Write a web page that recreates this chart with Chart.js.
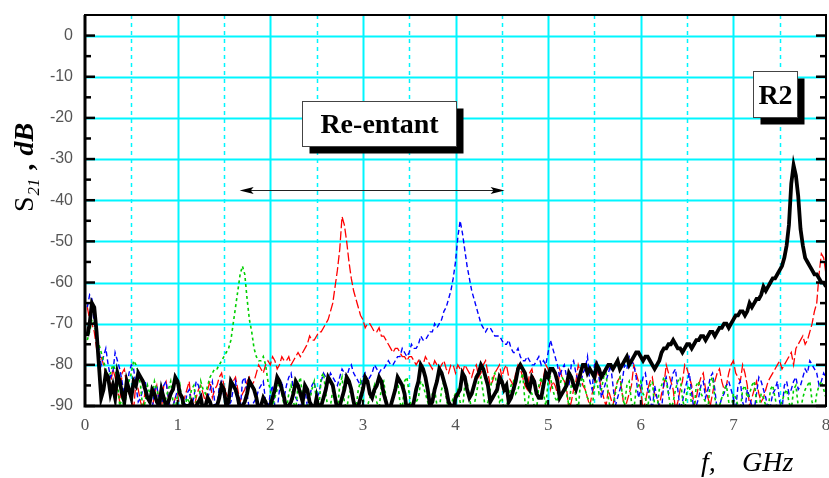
<!DOCTYPE html>
<html><head><meta charset="utf-8">
<script src="https://cdn.jsdelivr.net/npm/chart.js@4/dist/chart.umd.min.js"></script>
<style>html,body{margin:0;padding:0;background:#fff}</style>
</head><body>
<canvas id="c" width="829" height="478"></canvas>
<script>
// ---------- data ----------
const freqGHz = [
0.025,0.05,0.075,0.1,0.125,0.15,0.175,0.2,0.225,0.25,0.275,0.3,0.325,0.35,0.375,0.4,0.425,0.45,0.475,0.5,0.525,0.55,0.575,0.6,0.625,0.65,0.675,0.7,0.725,0.75,0.775,0.8,0.825,0.85,0.875,0.9,0.925,0.95,0.975,1,
1.025,1.05,1.075,1.1,1.125,1.15,1.175,1.2,1.225,1.25,1.275,1.3,1.325,1.35,1.375,1.4,1.425,1.45,1.475,1.5,1.525,1.55,1.575,1.6,1.625,1.65,1.675,1.7,1.725,1.75,1.775,1.8,1.825,1.85,1.875,1.9,1.925,1.95,1.975,2,
2.025,2.05,2.075,2.1,2.125,2.15,2.175,2.2,2.225,2.25,2.275,2.3,2.325,2.35,2.375,2.4,2.425,2.45,2.475,2.5,2.525,2.55,2.575,2.6,2.625,2.65,2.675,2.7,2.725,2.75,2.775,2.8,2.825,2.85,2.875,2.9,2.925,2.95,2.975,3,
3.025,3.05,3.075,3.1,3.125,3.15,3.175,3.2,3.225,3.25,3.275,3.3,3.325,3.35,3.375,3.4,3.425,3.45,3.475,3.5,3.525,3.55,3.575,3.6,3.625,3.65,3.675,3.7,3.725,3.75,3.775,3.8,3.825,3.85,3.875,3.9,3.925,3.95,3.975,4,
4.025,4.05,4.075,4.1,4.125,4.15,4.175,4.2,4.225,4.25,4.275,4.3,4.325,4.35,4.375,4.4,4.425,4.45,4.475,4.5,4.525,4.55,4.575,4.6,4.625,4.65,4.675,4.7,4.725,4.75,4.775,4.8,4.825,4.85,4.875,4.9,4.925,4.95,4.975,5,
5.025,5.05,5.075,5.1,5.125,5.15,5.175,5.2,5.225,5.25,5.275,5.3,5.325,5.35,5.375,5.4,5.425,5.45,5.475,5.5,5.525,5.55,5.575,5.6,5.625,5.65,5.675,5.7,5.725,5.75,5.775,5.8,5.825,5.85,5.875,5.9,5.925,5.95,5.975,6,
6.025,6.05,6.075,6.1,6.125,6.15,6.175,6.2,6.225,6.25,6.275,6.3,6.325,6.35,6.375,6.4,6.425,6.45,6.475,6.5,6.525,6.55,6.575,6.6,6.625,6.65,6.675,6.7,6.725,6.75,6.775,6.8,6.825,6.85,6.875,6.9,6.925,6.95,6.975,7,
7.025,7.05,7.075,7.1,7.125,7.15,7.175,7.2,7.225,7.25,7.275,7.3,7.325,7.35,7.375,7.4,7.425,7.45,7.475,7.5,7.525,7.55,7.575,7.6,7.625,7.65,7.675,7.7,7.725,7.75,7.775,7.8,7.825,7.85,7.875,7.9,7.925,7.95,7.975,8];

const s21_R2 = [
-73,-70,-65,-66,-72,-80,-88,-86,-82,-83,-87,-85,-88,-82,-84,-87,-89,-84,-86,-88,-84,-85,-82,-83,-84,-86,-88,-89,-86,-87,-89,-90,-86,-88,-90,-89,-87,-86,-83,-84,
-87,-88,-91,-90,-90,-89,-91,-90,-89,-88,-91,-90,-88,-89,-91,-90,-90,-88,-85,-86,-90,-89,-84,-85,-86,-88,-91,-90,-89,-87,-84,-85,-86,-88,-91,-90,-88,-89,-91,-90,
-88,-86,-83,-84,-86,-88,-91,-90,-89,-87,-84,-85,-87,-89,-85,-86,-89,-90,-91,-88,-91,-90,-88,-86,-83,-84,-85,-88,-91,-90,-88,-86,-83,-84,-86,-89,-91,-90,-88,-86,
-83,-84,-87,-88,-86,-85,-83,-84,-87,-89,-91,-90,-88,-86,-83,-84,-85,-87,-91,-90,-91,-89,-86,-84,-80,-81,-83,-86,-90,-89,-86,-84,-81,-82,-84,-86,-89,-90,-91,-88,
-87,-86,-82,-83,-86,-88,-87,-85,-83,-82,-80,-81,-83,-85,-89,-88,-87,-86,-83,-84,-86,-85,-89,-88,-86,-84,-81,-80,-81,-82,-85,-86,-83,-84,-87,-88,-88,-85,-82,-83,
-81,-81,-82,-84,-88,-87,-86,-85,-82,-83,-85,-86,-84,-82,-80,-80,-82,-81,-82,-83,-80,-81,-83,-82,-81,-80,-80,-81,-80,-79,-81,-80,-79,-78,-80,-79,-78,-77,-77,-78,
-79,-78,-78,-79,-80,-81,-80,-79,-77,-76,-76,-75,-75,-74,-75,-76,-76,-77,-76,-75,-75,-76,-75,-74,-74,-73,-73,-74,-73,-72,-72,-73,-72,-71,-71,-70,-70,-71,-70,-69,
-68,-68,-67,-67,-68,-67,-65,-66,-65,-64,-64,-63,-61,-62,-61,-60,-59,-59,-58,-57,-56,-54,-51,-46,-36,-31.5,-34,-39,-47,-51,-54,-55,-56,-57,-58,-58,-59,-60,-60,-61];

const s21_red = [
-66,-69,-70,-72,-76,-79,-78,-80,-82,-84,-85,-81,-83,-86,-89,-82,-81,-85,-87,-88,-91,-84,-86,-89,-91,-86,-88,-90,-91,-87,-85,-89,-91,-85,-84,-88,-91,-90,-88,-87,
-91,-89,-88,-86,-84,-90,-91,-88,-86,-85,-87,-89,-86,-84,-88,-86,-85,-83,-82,-85,-87,-88,-86,-84,-83,-86,-89,-87,-86,-84,-83,-85,-84,-82,-80,-81,-82,-80,-79,-80,
-78,-79,-81,-80,-78,-79,-79,-78,-80,-79,-78,-77,-78,-77,-76,-75,-73,-74,-74,-73,-72,-72,-71,-70,-69,-67,-65,-61,-57,-52,-44,-46,-50,-55,-59,-62,-64,-66,-68,-69,
-71,-70,-70,-71,-72,-72,-71,-73,-73,-74,-75,-76,-77,-76,-76,-77,-78,-78,-79,-78,-78,-79,-80,-79,-81,-80,-78,-79,-80,-81,-79,-80,-81,-80,-79,-81,-82,-80,-80,-82,
-80,-81,-82,-80,-81,-82,-83,-81,-80,-83,-82,-80,-79,-82,-85,-84,-82,-81,-80,-83,-81,-80,-83,-84,-85,-82,-80,-81,-83,-85,-86,-82,-81,-84,-87,-86,-84,-83,-80,-81,
-86,-84,-85,-87,-81,-83,-84,-86,-91,-89,-86,-84,-80,-82,-85,-86,-88,-90,-87,-85,-81,-83,-86,-88,-90,-86,-88,-90,-86,-84,-83,-87,-91,-89,-87,-85,-80,-82,-84,-86,
-91,-89,-86,-84,-83,-87,-88,-90,-87,-85,-80,-82,-84,-86,-91,-89,-86,-84,-80,-81,-83,-85,-90,-88,-85,-83,-82,-86,-88,-90,-87,-84,-82,-81,-84,-86,-85,-82,-80,-79,
-82,-83,-84,-80,-82,-85,-90,-88,-86,-84,-87,-89,-88,-86,-84,-83,-82,-81,-80,-79,-81,-80,-79,-78,-77,-80,-76,-75,-74,-73,-75,-74,-72,-70,-67,-65,-58,-53,-54,-58];

const s21_green = [
-74,-72,-69,-70,-73,-75,-77,-79,-81,-83,-82,-80,-81,-84,-90,-88,-91,-86,-84,-82,-79,-80,-82,-85,-91,-89,-85,-87,-88,-84,-86,-88,-91,-90,-88,-86,-84,-89,-91,-87,
-85,-90,-91,-88,-89,-86,-85,-89,-90,-84,-86,-87,-85,-83,-82,-81,-81,-80,-79,-78,-77,-76,-74,-70,-66,-62,-58,-56,-58,-64,-69,-72,-76,-78,-79,-79,-78,-80,-84,-86,
-90,-88,-86,-84,-87,-90,-91,-87,-85,-89,-91,-85,-83,-88,-91,-90,-89,-86,-84,-89,-91,-83,-82,-87,-91,-90,-86,-88,-91,-85,-83,-89,-91,-87,-86,-90,-91,-86,-84,-88,
-91,-90,-88,-87,-85,-89,-91,-85,-84,-88,-91,-90,-88,-86,-84,-89,-91,-84,-83,-87,-91,-90,-89,-88,-84,-85,-87,-89,-91,-87,-86,-90,-91,-86,-84,-88,-91,-90,-88,-87,
-86,-89,-91,-85,-84,-88,-91,-90,-87,-84,-83,-87,-91,-89,-86,-83,-82,-86,-89,-88,-91,-90,-88,-85,-84,-87,-86,-84,-82,-89,-91,-86,-87,-90,-91,-85,-83,-87,-90,-84,
-83,-86,-88,-89,-85,-83,-84,-87,-90,-85,-84,-88,-91,-84,-83,-86,-88,-89,-91,-85,-84,-87,-86,-83,-82,-88,-91,-90,-87,-84,-83,-87,-90,-85,-84,-89,-91,-86,-85,-84,
-87,-88,-91,-85,-84,-90,-91,-86,-85,-83,-84,-87,-91,-89,-86,-84,-83,-88,-91,-86,-85,-90,-91,-85,-84,-87,-88,-89,-91,-84,-83,-88,-91,-90,-88,-86,-85,-89,-91,-87,
-88,-90,-91,-86,-85,-88,-87,-85,-84,-89,-91,-87,-88,-90,-91,-86,-85,-88,-91,-90,-89,-87,-86,-89,-91,-86,-85,-90,-91,-88,-86,-85,-84,-89,-91,-87,-85,-84,-86,-88];

const s21_blue = [
-66,-63,-64,-70,-72,-76,-80,-78,-76,-80,-83,-82,-77,-79,-81,-84,-88,-86,-82,-80,-81,-85,-89,-88,-86,-84,-87,-90,-91,-86,-85,-89,-91,-85,-84,-88,-91,-90,-88,-86,
-87,-89,-91,-87,-86,-90,-88,-84,-85,-88,-91,-90,-88,-86,-84,-89,-91,-85,-84,-88,-91,-90,-89,-86,-84,-89,-91,-84,-83,-87,-91,-90,-89,-88,-86,-85,-84,-89,-91,-87,
-85,-90,-91,-86,-84,-88,-85,-83,-82,-86,-88,-89,-91,-87,-86,-90,-88,-85,-84,-88,-87,-84,-82,-83,-84,-82,-83,-84,-85,-83,-81,-82,-83,-81,-80,-82,-83,-84,-85,-83,
-82,-84,-83,-82,-80,-81,-82,-81,-81,-80,-79,-80,-80,-79,-78,-78,-76,-77,-78,-77,-75,-76,-76,-75,-73,-74,-74,-73,-72,-72,-70,-71,-70,-69,-67,-66,-64,-62,-59,-55,
-49,-45,-48,-52,-56,-59,-62,-64,-66,-68,-70,-71,-72,-71,-71,-72,-73,-73,-73,-74,-75,-75,-74,-76,-77,-77,-76,-78,-79,-79,-78,-79,-80,-80,-79,-78,-80,-79,-80,-77,
-74,-76,-78,-80,-83,-81,-80,-83,-85,-80,-79,-82,-84,-85,-82,-81,-78,-84,-86,-80,-79,-83,-88,-86,-84,-82,-80,-85,-90,-88,-86,-84,-80,-81,-78,-79,-80,-83,-88,-86,
-83,-82,-86,-88,-91,-85,-88,-90,-91,-84,-83,-87,-85,-82,-81,-86,-91,-89,-86,-84,-82,-87,-91,-90,-88,-85,-84,-88,-86,-83,-82,-86,-91,-90,-88,-87,-85,-84,-86,-88,
-91,-85,-84,-89,-91,-86,-88,-90,-91,-87,-83,-84,-86,-88,-91,-90,-87,-86,-84,-89,-91,-85,-84,-87,-86,-84,-83,-86,-85,-83,-81,-82,-79,-80,-81,-82,-85,-84,-82,-83];

const xTickValues = [0,1,2,3,4,5,6,7,8];
const xHalfGrid   = [0.5,1.5,2.5,3.5,4.5,5.5,6.5,7.5];
const yTickValues = [-90,-80,-70,-60,-50,-40,-30,-20,-10,0];
const yMinorTicks = [-85,-75,-65,-55,-45,-35,-25,-15,-5];

// annotation anchors (data units)
const reentantLabel = 'Re-entant';
const r2Label = 'R2';
const reentantBox = {x0:2.34, x1:4.01, y0:-15.9, y1:-26.8};
const r2Box = {x0:7.21, x1:7.69, y0:-8.6, y1:-19.7};
const arrowSpan = {x0:1.67, x1:4.53, y:-37.4};

// ---------- drawing helpers ----------
const pts = arr => freqGHz.map((f,i)=>({x:f, y:arr[i]}));

const bgPlugin = {
  id:'bgGrid',
  beforeDatasetsDraw(chart){
    const {ctx, chartArea:a, scales:{x,y}} = chart;
    ctx.save();
    ctx.strokeStyle = '#00F6FF';
    ctx.lineWidth = 2;
    yTickValues.forEach(v=>{
      if (v===-90) return;
      const py = Math.round(y.getPixelForValue(v))+0.5;
      ctx.beginPath(); ctx.moveTo(a.left,py); ctx.lineTo(a.right,py); ctx.stroke();
    });
    xTickValues.forEach(v=>{
      if (v===0||v===8) return;
      const px = Math.round(x.getPixelForValue(v))+0.5;
      ctx.beginPath(); ctx.moveTo(px,a.top); ctx.lineTo(px,a.bottom); ctx.stroke();
    });
    ctx.lineWidth = 1.5;
    ctx.setLineDash([4,4]);
    xHalfGrid.forEach(v=>{
      const px = Math.round(x.getPixelForValue(v))+0.5;
      ctx.beginPath(); ctx.moveTo(px,a.top); ctx.lineTo(px,a.bottom); ctx.stroke();
    });
    ctx.restore();
  },
  afterDatasetsDraw(chart){
    const {ctx, chartArea:a, scales:{x,y}} = chart;
    ctx.save();
    // frame
    ctx.strokeStyle = '#000';
    ctx.lineWidth = 2;
    ctx.strokeRect(a.left, a.top, a.right-a.left, a.bottom-a.top);
    ctx.lineWidth = 3;
    ctx.beginPath(); ctx.moveTo(a.left, a.top); ctx.lineTo(a.left, a.bottom); ctx.lineTo(a.right, a.bottom); ctx.stroke();
    // ticks
    ctx.lineWidth = 2.5;
    const tk = (v,len)=>{
      const py = y.getPixelForValue(v);
      ctx.beginPath(); ctx.moveTo(a.left,py); ctx.lineTo(a.left+len,py); ctx.stroke();
      ctx.beginPath(); ctx.moveTo(a.right,py); ctx.lineTo(a.right-len,py); ctx.stroke();
    };
    yTickValues.forEach(v=>tk(v,10));
    yMinorTicks.forEach(v=>tk(v,6));
    ctx.lineWidth = 2;
    xTickValues.forEach(v=>{
      const px = x.getPixelForValue(v);
      ctx.beginPath(); ctx.moveTo(px,a.bottom); ctx.lineTo(px,a.bottom-6); ctx.stroke();
    });

    // arrow
    const ax0 = x.getPixelForValue(arrowSpan.x0), ax1 = x.getPixelForValue(arrowSpan.x1);
    const ay = Math.round(y.getPixelForValue(arrowSpan.y))+0.5;
    ctx.strokeStyle = '#222'; ctx.lineWidth = 1;
    ctx.beginPath(); ctx.moveTo(ax0+6,ay); ctx.lineTo(ax1-6,ay); ctx.stroke();
    ctx.fillStyle = '#000';
    ctx.beginPath(); ctx.moveTo(ax0,ay); ctx.lineTo(ax0+14,ay-3.5); ctx.lineTo(ax0+11,ay); ctx.lineTo(ax0+14,ay+3.5); ctx.closePath(); ctx.fill();
    ctx.beginPath(); ctx.moveTo(ax1,ay); ctx.lineTo(ax1-14,ay-3.5); ctx.lineTo(ax1-11,ay); ctx.lineTo(ax1-14,ay+3.5); ctx.closePath(); ctx.fill();

    // boxes
    const box = (b, label)=>{
      const l = Math.round(x.getPixelForValue(b.x0))+0.5, r = Math.round(x.getPixelForValue(b.x1))+0.5;
      const t = Math.round(y.getPixelForValue(b.y0))+0.5, bt = Math.round(y.getPixelForValue(b.y1))+0.5;
      ctx.fillStyle = '#000';
      ctx.fillRect(l+7, t+7, r-l, bt-t);
      ctx.fillStyle = '#fff';
      ctx.fillRect(l, t, r-l, bt-t);
      ctx.strokeStyle = '#444'; ctx.lineWidth = 1;
      ctx.strokeRect(l, t, r-l, bt-t);
      ctx.fillStyle = '#000';
      ctx.font = 'bold 28px "Liberation Serif", "Times New Roman", serif';
      ctx.textAlign = 'center'; ctx.textBaseline = 'alphabetic';
      ctx.fillText(label, (l+r)/2, (t+bt)/2 + 9);
    };
    box(reentantBox, reentantLabel);
    box(r2Box, r2Label);
    ctx.restore();
  },
  afterDraw(chart){
    const {ctx} = chart;
    ctx.save();
    // y axis title, rotated
    ctx.translate(33, 212);
    ctx.rotate(-Math.PI/2);
    ctx.fillStyle = '#000';
    ctx.textAlign = 'left'; ctx.textBaseline = 'alphabetic';
    let cx = 0;
    ctx.font = '28px "Liberation Serif", serif';
    ctx.fillText('S', cx, 0); cx += ctx.measureText('S').width + 1;
    ctx.font = 'italic 17px "Liberation Serif", serif';
    ctx.fillText('21', cx, 6); cx += ctx.measureText('21').width + 2;
    ctx.font = 'bold italic 28px "Liberation Serif", serif';
    ctx.fillText(' , dB', cx, 0);
    ctx.restore();

    ctx.save();
    ctx.fillStyle = '#000';
    ctx.font = 'italic 28px "Liberation Serif", serif';
    ctx.textAlign = 'left'; ctx.textBaseline = 'alphabetic';
    ctx.fillText('f,', 701, 471);
    ctx.fillText('GHz', 742, 471);
    ctx.restore();
  }
};

const zeroPad = s => { s.paddingTop = 0; s.paddingBottom = 0; s.paddingLeft = 0; s.paddingRight = 0; };

new Chart(document.getElementById('c'), {
  type:'line',
  data:{
    datasets:[
      {label:'R2', data:pts(s21_R2), borderColor:'#000', borderWidth:3.8, pointRadius:0, tension:0, order:0},
      {label:'red', data:pts(s21_red), borderColor:'#FF0000', borderWidth:1.3, borderDash:[9,3], pointRadius:0, tension:0, order:3},
      {label:'blue', data:pts(s21_blue), borderColor:'#0000FF', borderWidth:1.4, borderDash:[5,3], pointRadius:0, tension:0, order:2},
      {label:'green', data:pts(s21_green), borderColor:'#00D000', borderWidth:1.6, borderDash:[3,3], pointRadius:0, tension:0, order:1}
    ]
  },
  options:{
    responsive:false, animation:false, devicePixelRatio:1,
    layout:{padding:{top:15, right:3, left:0, bottom:0}},
    plugins:{legend:{display:false}, tooltip:{enabled:false}},
    scales:{
      x:{type:'linear', min:0, max:8,
         grid:{display:false, drawTicks:false}, border:{display:false},
         afterBuildTicks:s=>{s.ticks = xTickValues.map(v=>({value:v}));},
         ticks:{font:{family:'"Liberation Serif"', size:17}, color:'#555', padding:9, maxRotation:0, autoSkip:false},
         afterFit:s=>{s.height = 72; zeroPad(s);}},
      y:{type:'linear', min:-90, max:5,
         grid:{display:false, drawTicks:false}, border:{display:false},
         afterBuildTicks:s=>{s.ticks = yTickValues.map(v=>({value:v}));},
         ticks:{font:{family:'"Liberation Sans"', size:16}, color:'#555', padding:12, autoSkip:false},
         afterFit:s=>{s.width = 85; zeroPad(s);}}
    }
  },
  plugins:[bgPlugin]
});
</script>
</body></html>
